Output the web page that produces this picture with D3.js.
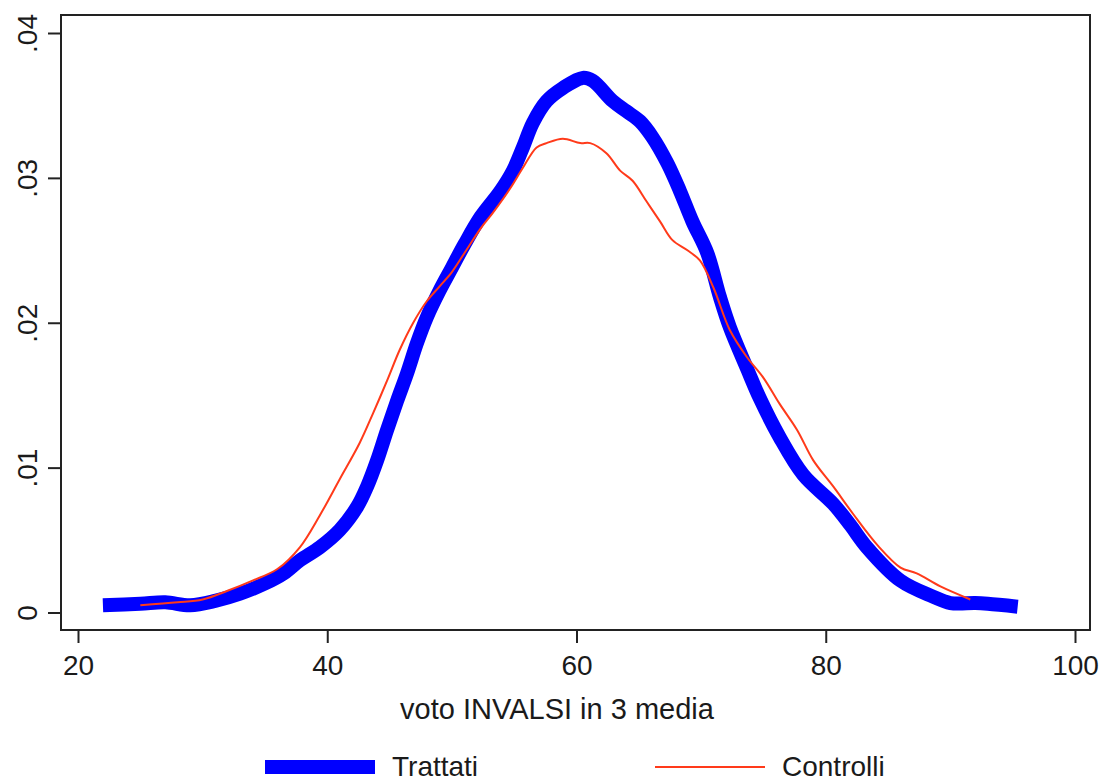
<!DOCTYPE html>
<html>
<head>
<meta charset="utf-8">
<script src="https://cdn.jsdelivr.net/npm/d3@7"></script>
<style>
  html, body { margin: 0; padding: 0; background: #fff; }
  svg text { font-family: "Liberation Sans", Arial, sans-serif; fill: #1a1a1a; }
</style>
</head>
<body>
<svg id="chart" width="1101" height="781"></svg>
<script>
// ---- data ----
const xTicks = [20, 40, 60, 80, 100];
const yTicks = [0, 0.01, 0.02, 0.03, 0.04];
const yTickLabels = ["0", ".01", ".02", ".03", ".04"];
const xTitle = "voto INVALSI in 3 media";
const seriesNames = ["Trattati", "Controlli"];

const trattatiX = [22, 25, 27, 29, 31, 33, 35, 36.5, 37.8, 39.4, 41, 42.4, 43.2, 44, 44.8, 45.6, 46.4, 47.2, 48, 49, 50, 51, 52.3, 53.9, 54.9, 55.7, 56.5, 57.6, 58.9, 60.5, 61.3, 62.9, 64, 65.1, 66.1, 67.3, 68.3, 69.3, 70.5, 71.5, 72.3, 73.7, 74.7, 76.3, 78.2, 80.6, 82, 83.3, 86, 88.6, 90, 92, 93, 95.4];
const trattatiY = [0.0005, 0.0006, 0.0007, 0.0005, 0.0008, 0.0013, 0.002, 0.0027, 0.0036, 0.0045, 0.0057, 0.0073, 0.0087, 0.0105, 0.0126, 0.0146, 0.0165, 0.0186, 0.0204, 0.0222, 0.0238, 0.0254, 0.0273, 0.0291, 0.0305, 0.0321, 0.0338, 0.0353, 0.0362, 0.0369, 0.0367, 0.0353, 0.0346, 0.0339, 0.0328, 0.031, 0.0291, 0.027, 0.0248, 0.0218, 0.0197, 0.0168, 0.0148, 0.0121, 0.0095, 0.0075, 0.006, 0.0045, 0.0022, 0.0011, 0.00065, 0.00065, 0.0006, 0.0004];

const controlliX = [25, 28, 30, 32, 34, 36, 37.8, 39.4, 41, 42.6, 43.7, 44.8, 45.8, 46.9, 48, 49, 50, 51, 52.3, 53.3, 54.7, 55.7, 56.8, 57.6, 58.9, 60.3, 61.1, 62.4, 63.5, 64.5, 65.6, 66.7, 67.7, 68.9, 69.9, 71, 72.3, 73.7, 75, 76.3, 77.7, 79, 80.6, 82.2, 84.2, 86, 87.3, 89.2, 91.6];
const controlliY = [0.0005, 0.0007, 0.0009, 0.0015, 0.0022, 0.003, 0.0045, 0.0067, 0.0092, 0.0117, 0.0138, 0.016, 0.0181, 0.02, 0.0215, 0.0225, 0.0235, 0.0248, 0.0265, 0.0276, 0.0293, 0.0307, 0.0321, 0.0324, 0.0327, 0.0324, 0.0324, 0.0317, 0.0305, 0.0298, 0.0284, 0.027, 0.0257, 0.025, 0.0243, 0.0224, 0.0195, 0.0176, 0.0162, 0.0144, 0.0126, 0.0105, 0.0087, 0.0068, 0.0046, 0.0031, 0.0027, 0.0018, 0.0009];

// ---- layout ----
const svg = d3.select("#chart");
const frame = {left: 61, right: 1090, top: 15, bottom: 630};
const x = d3.scaleLinear().domain([20, 100]).range([78, 1075]);
const y = d3.scaleLinear().domain([0, 0.04]).range([612.5, 33]);
const FS = 28;

// frame
svg.append("rect")
  .attr("x", frame.left).attr("y", frame.top)
  .attr("width", frame.right - frame.left).attr("height", frame.bottom - frame.top)
  .attr("fill", "none").attr("stroke", "#222").attr("stroke-width", 2);

// x axis
const xAxis = svg.append("g").attr("transform", `translate(0,${frame.bottom})`)
  .call(d3.axisBottom(x).tickValues(xTicks).tickSize(13).tickSizeOuter(0).tickPadding(12));
xAxis.select(".domain").remove();
xAxis.selectAll("line").attr("stroke", "#222").attr("stroke-width", 2);
xAxis.selectAll("text").attr("font-size", FS).attr("fill", "#1a1a1a")
  .attr("font-family", "Liberation Sans, Arial, sans-serif");

// y axis
const yAxis = svg.append("g").attr("transform", `translate(${frame.left},0)`)
  .call(d3.axisLeft(y).tickValues(yTicks).tickFormat((d, i) => yTickLabels[i]).tickSize(13).tickSizeOuter(0));
yAxis.select(".domain").remove();
yAxis.selectAll("line").attr("stroke", "#222").attr("stroke-width", 2);
yAxis.selectAll("text")
  .attr("font-size", FS).attr("fill", "#1a1a1a")
  .attr("font-family", "Liberation Sans, Arial, sans-serif")
  .attr("text-anchor", "middle").attr("dy", null).attr("x", null)
  .attr("transform", "translate(-24,0) rotate(-90)");

// axis title
svg.append("text").attr("x", 557).attr("y", 719).attr("text-anchor", "middle")
  .attr("font-size", 29).text(xTitle);

// lines
const line = d3.line().x(d => x(d[0])).y(d => y(d[1])).curve(d3.curveCatmullRom.alpha(0.5));
const tData = trattatiX.map((v, i) => [v, trattatiY[i]]);
const cData = controlliX.map((v, i) => [v, controlliY[i]]);

svg.append("path").datum(tData).attr("d", line)
  .attr("fill", "none").attr("stroke", "#0000ff").attr("stroke-width", 14)
  .attr("stroke-linejoin", "round").attr("stroke-linecap", "butt");
svg.append("path").datum(cData).attr("d", line)
  .attr("fill", "none").attr("stroke", "#ff3a1a").attr("stroke-width", 2)
  .attr("stroke-linejoin", "round");

// legend
const legend = svg.append("g");
legend.append("line").attr("x1", 265).attr("x2", 375).attr("y1", 767).attr("y2", 767)
  .attr("stroke", "#0000ff").attr("stroke-width", 14);
legend.append("text").attr("x", 392).attr("y", 776).attr("font-size", FS).text(seriesNames[0]);
legend.append("line").attr("x1", 655).attr("x2", 765).attr("y1", 767).attr("y2", 767)
  .attr("stroke", "#ff3a1a").attr("stroke-width", 2);
legend.append("text").attr("x", 782).attr("y", 776).attr("font-size", FS).text(seriesNames[1]);
</script>
</body>
</html>
